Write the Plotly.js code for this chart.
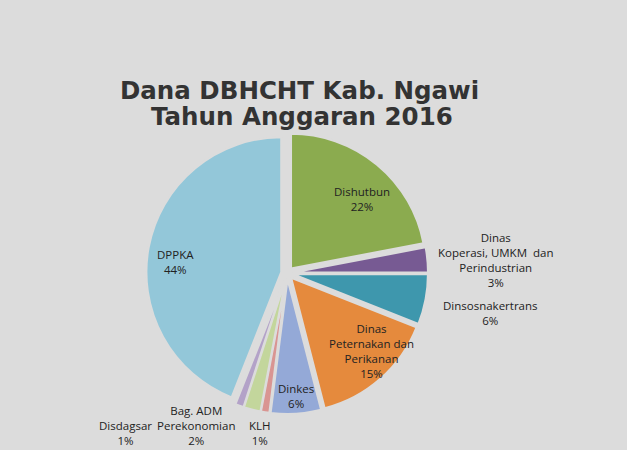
<!DOCTYPE html>
<html>
<head>
<meta charset="utf-8">
<script src="https://cdn.plot.ly/plotly-3.0.1.min.js"></script>
<style>
  html, body { margin: 0; padding: 0; background: #dcdcdc; }
  #chart { width: 627px; height: 450px; }
</style>
</head>
<body>
<div id="chart"></div>
<script>
// Dana DBHCHT Kab. Ngawi 2016 - share per instansi (%)
const labels = [
    "Dishutbun",
    "Dinas<br>Koperasi, UMKM  dan<br>Perindustrian",
    "Dinsosnakertrans",
    "Dinas<br>Peternakan dan<br>Perikanan",
    "Dinkes",
    "KLH",
    "Bag. ADM<br>Perekonomian",
    "Disdagsar",
    "DPPKA"
];
const values = [22, 3, 6, 15, 6, 1, 2, 1, 44];
const colors = ["#8bab4f", "#775a93", "#3e97ad", "#e58a3d", "#94a9d7", "#d99592", "#c3d69c", "#b3a2c8", "#93c7d9"];

// label centres in pixels (from top-left), same order as labels
const labelPos = [
    [362, 199], [495, 260], [490, 313], [371, 351], [296, 396],
    [260, 433], [196, 425], [125, 433], [175, 262]
];

const W = 627, H = 450;
const bg = "#dcdcdc";
const lblFont = { family: "Open Sans, sans-serif", size: 11.5, color: "#222" };
const titleFont = { family: "DejaVu Sans, sans-serif", size: 24.5, color: "#333", weight: "bold" };

const trace = {
    type: "pie",
    labels: labels,
    values: values,
    sort: false,
    direction: "clockwise",
    rotation: 0,
    marker: { colors: colors, line: { color: bg, width: 2 } },
    pull: 0.045,
    textinfo: "none",
    hoverinfo: "label+percent",
    showlegend: false,
    domain: { x: [0.228, 0.688], y: [0.08, 0.706] }
};

const total = values.reduce((a, b) => a + b, 0);
const annotations = labels.map((lab, i) => ({
    text: lab + "<br>" + Math.round(values[i] / total * 100) + "%",
    x: labelPos[i][0] / W,
    y: 1 - labelPos[i][1] / H,
    xref: "paper", yref: "paper",
    xanchor: "center", yanchor: "middle",
    showarrow: false,
    font: lblFont
}));

// two-line title, lines set closer than plotly's default line height
annotations.push({
    text: "Dana DBHCHT Kab. Ngawi",
    font: titleFont,
    xref: "paper", yref: "paper",
    x: 299.5 / W, y: 1 - 91 / H,
    xanchor: "center", yanchor: "middle",
    showarrow: false
});
annotations.push({
    text: "Tahun Anggaran 2016",
    font: titleFont,
    xref: "paper", yref: "paper",
    x: 301.5 / W, y: 1 - 116 / H,
    xanchor: "center", yanchor: "middle",
    showarrow: false
});

const layout = {
    width: W,
    height: H,
    paper_bgcolor: bg,
    plot_bgcolor: bg,
    margin: { l: 0, r: 0, t: 0, b: 0 },
    annotations: annotations
};

Plotly.newPlot("chart", [trace], layout, { displayModeBar: false, staticPlot: true });
</script>
</body>
</html>
